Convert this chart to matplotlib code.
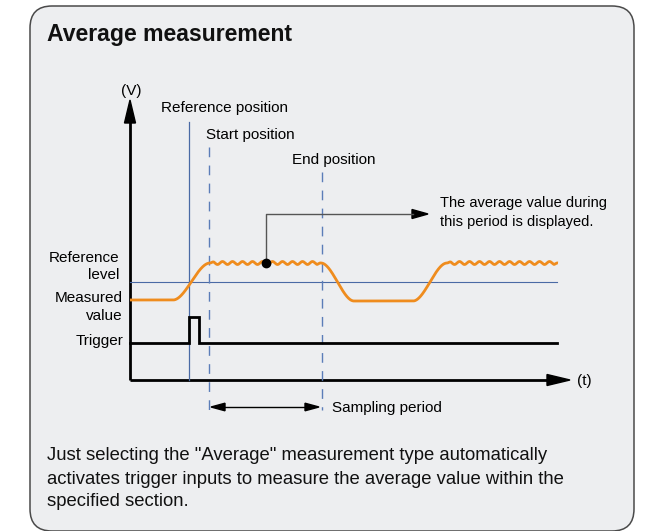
import numpy as np
import matplotlib
matplotlib.use("Agg")
import matplotlib.pyplot as plt
from matplotlib.patches import FancyBboxPatch, Polygon

plt.rcParams['font.family'] = ['Liberation Sans Narrow', 'Liberation Sans', 'DejaVu Sans']

# ---- data (diagram units = pixel positions) ----
signal_t = [130, 173, 210, 321, 354, 413, 447, 558]
signal_v = [300, 300, 263, 263, 301, 301, 263, 263]
high_level = 263
trigger_t = [130, 189, 189, 199, 199, 557]
trigger_v = [343, 343, 317, 317, 343, 343]
reference_level = 282
reference_pos = 189
start_pos = 209
end_pos = 322
sample_point = (266, 263)

title = "Average measurement"
body_lines = ['Just selecting the "Average" measurement type automatically',
              'activates trigger inputs to measure the average value within the',
              'specified section.']

W, H = 670, 531
fig = plt.figure(figsize=(W / 100, H / 100), dpi=100)
ax = fig.add_axes([0, 0, 1, 1])
ax.set_xlim(0, W)
ax.set_ylim(H, 0)
ax.axis('off')
fig.patch.set_facecolor('white')

# rounded panel
panel = FancyBboxPatch((30, 6), 604, 525, boxstyle="round,pad=0,rounding_size=22",
                       facecolor='#EDEEF0', edgecolor='#4a4a4a', lw=1.1)
ax.add_patch(panel)

ax.text(47, 34, title, fontsize=16.6, fontweight='bold', va='center', ha='left', color='#111')

BLUE = '#4A6AA5'
DBLUE = '#5B7DB8'
ORANGE = '#EF8C1E'
FS = 11

# axes
ax.plot([130, 130], [380, 118], color='black', lw=2.0, solid_capstyle='butt')
ax.add_patch(Polygon([[130, 100], [124.5, 123], [135.5, 123]], closed=True, color='black'))
ax.plot([130, 550], [380, 380], color='black', lw=2.0, solid_capstyle='butt')
ax.add_patch(Polygon([[570, 380], [547, 374.5], [547, 385.5]], closed=True, color='black'))
ax.text(131, 91, '(V)', fontsize=FS, ha='center', va='center')
ax.text(577, 381, '(t)', fontsize=FS, ha='left', va='center')

# reference level
ax.plot([130, 557], [reference_level, reference_level], color=BLUE, lw=0.8)

# position lines
ax.plot([reference_pos, reference_pos], [122, 380], color=BLUE, lw=0.9)
ax.plot([start_pos, start_pos], [147, 413], color=DBLUE, lw=1.0, dashes=(7, 6))
ax.plot([end_pos, end_pos], [172, 410], color=DBLUE, lw=1.0, dashes=(7, 6))
ax.text(161, 108, 'Reference position', fontsize=FS, ha='left', va='center')
ax.text(206, 135, 'Start position', fontsize=FS, ha='left', va='center')
ax.text(292, 160, 'End position', fontsize=FS, ha='left', va='center')

# signal with smooth transitions and ripple on high sections
xs, ys = [], []
for i in range(len(signal_t) - 1):
    t0, t1 = signal_t[i], signal_t[i + 1]
    v0, v1 = signal_v[i], signal_v[i + 1]
    tt = np.linspace(t0, t1, max(int((t1 - t0) * 4), 2))
    if v0 == v1:
        vv = np.full_like(tt, v0, dtype=float)
        if v0 == high_level:
            env = np.clip(np.minimum(tt - t0, t1 - tt) / 4.0, 0, 1)
            vv = vv - 1.5 * env * np.sin(2 * np.pi * (tt - t0) / 10.0)
    else:
        s = (tt - t0) / (t1 - t0)
        s = s * s * (3 - 2 * s)
        vv = v0 + (v1 - v0) * s
    xs.extend(tt)
    ys.extend(vv)
ax.plot(xs, ys, color=ORANGE, lw=2.0, solid_capstyle='butt')

# trigger
ax.plot(trigger_t, trigger_v, color='black', lw=2.0, solid_joinstyle='miter')

# left labels
ax.text(119, 258, 'Reference', fontsize=FS, ha='right', va='center')
ax.text(119, 275, 'level', fontsize=FS, ha='right', va='center')
ax.text(123, 298, 'Measured', fontsize=FS, ha='right', va='center')
ax.text(123, 316, 'value', fontsize=FS, ha='right', va='center')
ax.text(123, 341, 'Trigger', fontsize=FS, ha='right', va='center')

# callout
px, py = sample_point
ax.plot([px, px, 413], [py, 214, 214], color='#555555', lw=1.0)
ax.add_patch(Polygon([[428, 214], [412, 209.5], [412, 218.5]], closed=True, color='black'))
ax.plot([px], [py], 'o', color='black', ms=6)
ax.text(440, 203, 'The average value during', fontsize=10.5, ha='left', va='center')
ax.text(440, 222, 'this period is displayed.', fontsize=10.5, ha='left', va='center')

# sampling period
ya = 407
ax.plot([start_pos + 10, end_pos - 10], [ya, ya], color='black', lw=1.0)
ax.add_patch(Polygon([[start_pos + 2, ya], [start_pos + 16, ya - 3.8], [start_pos + 16, ya + 3.8]],
                     closed=True, color='black'))
ax.add_patch(Polygon([[end_pos - 3, ya], [end_pos - 17, ya - 3.8], [end_pos - 17, ya + 3.8]],
                     closed=True, color='black'))
ax.text(332, 408, 'Sampling period', fontsize=FS, ha='left', va='center')

# body text
for i, line in enumerate(body_lines):
    ax.text(47, 456 + 23 * i, line, fontsize=13.3, ha='left', va='center', color='#111')

fig.savefig('out.png', dpi=100, facecolor='white')
